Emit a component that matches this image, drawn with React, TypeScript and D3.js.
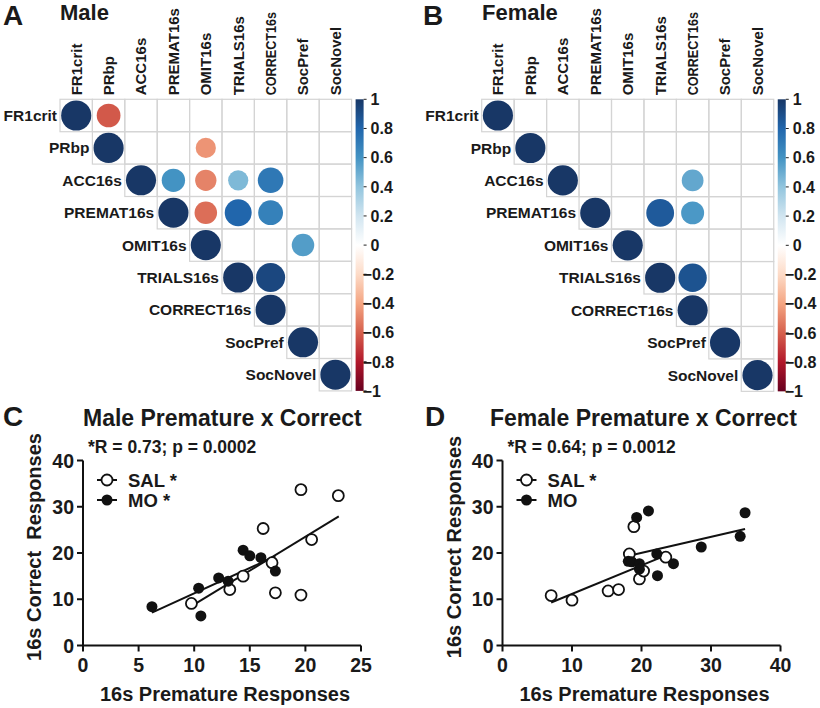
import React from "react";
import * as d3 from "d3";

const vars = ["FR1crit", "PRbp", "ACC16s", "PREMAT16s", "OMIT16s", "TRIALS16s", "CORRECT16s", "SocPref", "SocNovel"];

// off-diagonal correlations [row, col, r]; diagonal = 1
const maleCorr: [string, string, number][] = [
  ["FR1crit", "PRbp", -0.62],
  ["PRbp", "OMIT16s", -0.45],
  ["ACC16s", "PREMAT16s", 0.6],
  ["ACC16s", "OMIT16s", -0.5],
  ["ACC16s", "TRIALS16s", 0.45],
  ["ACC16s", "CORRECT16s", 0.72],
  ["PREMAT16s", "OMIT16s", -0.56],
  ["PREMAT16s", "TRIALS16s", 0.8],
  ["PREMAT16s", "CORRECT16s", 0.68],
  ["OMIT16s", "SocPref", 0.56],
  ["TRIALS16s", "CORRECT16s", 0.93],
];
const femaleCorr: [string, string, number][] = [
  ["ACC16s", "CORRECT16s", 0.52],
  ["PREMAT16s", "TRIALS16s", 0.85],
  ["PREMAT16s", "CORRECT16s", 0.58],
  ["TRIALS16s", "CORRECT16s", 0.88],
];

const colorStops = [-1, -0.8, -0.6, -0.4, -0.2, 0, 0.2, 0.4, 0.6, 0.8, 1];
const colorRange = ["#67001F", "#B2182B", "#D6604D", "#F4A582", "#FDDBC7", "#FFFFFF", "#D1E5F0", "#92C5DE", "#4393C3", "#2166AC", "#183766"];
const barTicks = [1, 0.8, 0.6, 0.4, 0.2, 0, -0.2, -0.4, -0.6, -0.8, -1];

// scatter C (male)
const maleSalX = [19.6, 22.96, 16.2, 20.56, 17.0, 14.4, 13.2, 9.75, 17.3, 19.6];
const maleSalY = [33.7, 32.4, 25.3, 22.9, 17.9, 15.0, 12.1, 9.1, 11.4, 10.9];
const maleMoX = [6.2, 10.6, 10.4, 12.2, 13.05, 14.4, 15.0, 16.0, 17.3];
const maleMoY = [8.4, 6.4, 12.4, 14.6, 13.9, 20.6, 19.4, 19.0, 16.1];
const maleFits: [string, number, number, number, number][] = [
  ["SAL", 9.75, 8.5, 23.0, 27.9],
  ["MO", 6.2, 7.1, 17.3, 19.3],
];

// scatter D (female)
const femSalX = [7.0, 10.0, 15.2, 16.7, 18.9, 18.25, 19.7, 20.3, 23.5];
const femSalY = [10.8, 9.8, 11.8, 12.1, 25.7, 19.8, 14.4, 16.1, 19.1];
const femMoX = [18.1, 18.6, 19.7, 19.7, 22.2, 24.6, 22.3, 19.3, 21.0, 28.6, 34.2, 34.9];
const femMoY = [18.2, 18.1, 17.7, 16.5, 19.8, 17.7, 15.1, 27.7, 29.1, 21.3, 23.6, 28.7];
const femFits: [string, number, number, number, number][] = [
  ["SAL", 7.0, 9.3, 23.5, 19.5],
  ["MO", 18.2, 19.4, 34.9, 25.2],
];

const yTicks = [0, 10, 20, 30, 40];
const maleXTicks = [0, 5, 10, 15, 20, 25];
const femXTicks = [0, 10, 20, 30, 40];

const FONT = "'Liberation Sans', Arial, Helvetica, sans-serif";
const color = d3.scaleLinear<string>().domain(colorStops).range(colorRange);

function CorrMatrix({ x0, y0, cell, corr, gradId }: { x0: number; y0: number; cell: number; corr: [string, string, number][]; gradId: string }) {
  const n = vars.length;
  const band = d3.scaleBand<string>().domain(vars).range([0, n * cell]);
  const maxR = cell * 0.465;
  const cells: any[] = [];
  vars.forEach((rv, i) => {
    vars.forEach((cv, j) => {
      if (j < i) return;
      cells.push(
        <rect key={`g${i}-${j}`} x={x0 + band(cv)!} y={y0 + band(rv)!} width={cell} height={cell} fill="none" stroke="#d4d4d4" strokeWidth={1.2} />
      );
    });
  });
  const vals: [string, string, number][] = [...vars.map((v) => [v, v, 1] as [string, string, number]), ...corr];
  const barX = x0 + n * cell + 4;
  const barW = 8;
  const barY = d3.scaleLinear().domain([1, -1]).range([y0, y0 + n * cell]);
  return (
    <g>
      <defs>
        <linearGradient id={gradId} x1="0" y1="1" x2="0" y2="0">
          {colorStops.map((s, k) => (
            <stop key={k} offset={`${((s + 1) / 2) * 100}%`} stopColor={colorRange[k]} />
          ))}
        </linearGradient>
      </defs>
      {cells}
      {vals.map(([rv, cv, r], k) => (
        <circle key={k} cx={x0 + band(cv)! + cell / 2} cy={y0 + band(rv)! + cell / 2} r={maxR * Math.sqrt(Math.abs(r))} fill={color(r)} />
      ))}
      {vars.map((v) => (
        <text key={`r${v}`} x={x0 + band(v)! - 3} y={y0 + band(v)! + cell / 2} dy="0.36em" textAnchor="end" fontFamily={FONT} fontWeight="bold" fontSize={15.5} fill="#1a1a1a">
          {v}
        </text>
      ))}
      {vars.map((v) => (
        <text key={`c${v}`} transform={`translate(${x0 + band(v)! + cell / 2},${y0 - 4}) rotate(-90)${v.length > 9 ? " scale(0.84,1)" : ""}`} dy="0.36em" textAnchor="start" fontFamily={FONT} fontWeight="bold" fontSize={15} fill="#1a1a1a">
          {v}
        </text>
      ))}
      <rect x={barX} y={y0} width={barW} height={n * cell} fill={`url(#${gradId})`} />
      {barTicks.map((t) => (
        <g key={t}>
          <line x1={barX + barW} x2={barX + barW + 3} y1={barY(t)} y2={barY(t)} stroke="#222" strokeWidth={1} />
          <text x={t < 0 ? barX + barW - 1 : barX + barW + 7} y={barY(t)} dy="0.36em" fontFamily={FONT} fontWeight="bold" fontSize={16} fill="#1a1a1a">
            {t < 0 ? `\u2212${Math.abs(t)}` : `${t}`}
          </text>
        </g>
      ))}
    </g>
  );
}

function Scatter({ xMax, xTicks, xRange, salX, salY, moX, moY, fits, yLabel, title, titleX, stats, salLabel, moLabel, letter, letterX, yLabX }: any) {
  const x = d3.scaleLinear().domain([0, xMax]).range(xRange);
  const y = d3.scaleLinear().domain([0, 40]).range([645.5, 460.5]);
  const ax = xRange[0];
  const line = d3.line<[number, number]>().x((d) => x(d[0])).y((d) => y(d[1]));
  const legX = ax + 24;
  return (
    <g fontFamily={FONT} fontWeight="bold" fill="#1a1a1a">
      <text x={letterX} y={426} fontSize={28}>{letter}</text>
      <text x={titleX} y={426} fontSize={23}>{title}</text>
      <text x={ax + 5} y={453} fontSize={17.5}>{stats}</text>
      <line x1={ax} x2={ax} y1={y(40)} y2={y(0)} stroke="#111" strokeWidth={2} />
      <line x1={ax} x2={x(xMax)} y1={y(0)} y2={y(0)} stroke="#111" strokeWidth={2} />
      {yTicks.map((t) => (
        <g key={`y${t}`}>
          <line x1={ax - 6} x2={ax} y1={y(t)} y2={y(t)} stroke="#111" strokeWidth={2} />
          <text x={ax - 9} y={y(t)} dy="0.36em" textAnchor="end" fontSize={19.5}>{t}</text>
        </g>
      ))}
      {xTicks.map((t: number) => (
        <g key={`x${t}`}>
          <line x1={x(t)} x2={x(t)} y1={y(0)} y2={y(0) + 6} stroke="#111" strokeWidth={2} />
          <text x={x(t)} y={672} textAnchor="middle" fontSize={19.5}>{t}</text>
        </g>
      ))}
      <text x={(xRange[0] + xRange[1]) / 2 + 3} y={701} textAnchor="middle" fontSize={20}>16s Premature Responses</text>
      <text transform={`translate(${yLabX},547) rotate(-90)`} textAnchor="middle" fontSize={20} style={{ whiteSpace: "pre" }}>{yLabel}</text>
      {fits.map((f: [string, number, number, number, number]) => (
        <path key={f[0]} d={line([[f[1], f[2]], [f[3], f[4]]])!} stroke="#111" strokeWidth={2} fill="none" />
      ))}
      {salX.map((v: number, i: number) => (
        <circle key={`s${i}`} cx={x(v)} cy={y(salY[i])} r={5.5} fill="#fff" stroke="#111" strokeWidth={1.8} />
      ))}
      {moX.map((v: number, i: number) => (
        <circle key={`m${i}`} cx={x(v)} cy={y(moY[i])} r={5.5} fill="#111" />
      ))}
      <line x1={legX - 10} x2={legX + 10} y1={480} y2={480} stroke="#111" strokeWidth={2} />
      <circle cx={legX} cy={480} r={5.5} fill="#fff" stroke="#111" strokeWidth={1.8} />
      <text x={legX + 21} y={486.5} fontSize={18.5}>{salLabel}</text>
      <line x1={legX - 10} x2={legX + 10} y1={500} y2={500} stroke="#111" strokeWidth={2} />
      <circle cx={legX} cy={500} r={5.5} fill="#111" />
      <text x={legX + 21} y={506.5} fontSize={18.5}>{moLabel}</text>
    </g>
  );
}

export default function App() {
  return (
    <svg width={820} height={708} style={{ position: "absolute", left: 0, top: 0, background: "#fff" }}>
      <rect width={820} height={708} fill="#fff" />
      <g fontFamily={FONT} fontWeight="bold" fill="#1a1a1a">
        <text x={3} y={25} fontSize={28}>A</text>
        <text x={60} y={20} fontSize={22}>Male</text>
        <text x={423} y={25} fontSize={28}>B</text>
        <text x={482} y={20} fontSize={22}>Female</text>
      </g>
      <CorrMatrix x0={60} y0={99.3} cell={32.4} corr={maleCorr} gradId="gm" />
      <CorrMatrix x0={481.7} y0={99.3} cell={32.45} corr={femaleCorr} gradId="gf" />
      <Scatter xMax={25} xTicks={maleXTicks} xRange={[83, 361]} salX={maleSalX} salY={maleSalY} moX={maleMoX} moY={maleMoY} fits={maleFits}
        yLabel={"16s Correct  Responses"} title="Male Premature x Correct" titleX={83} stats="*R = 0.73; p = 0.0002" salLabel="SAL *" moLabel="MO *" letter="C" letterX={3} yLabX={41} />
      <Scatter xMax={40} xTicks={femXTicks} xRange={[502.5, 780.5]} salX={femSalX} salY={femSalY} moX={femMoX} moY={femMoY} fits={femFits}
        yLabel={"16s Correct Responses"} title="Female Premature x Correct" titleX={490} stats="*R = 0.64; p = 0.0012" salLabel="SAL *" moLabel="MO" letter="D" letterX={425} yLabX={461} />
    </svg>
  );
}
